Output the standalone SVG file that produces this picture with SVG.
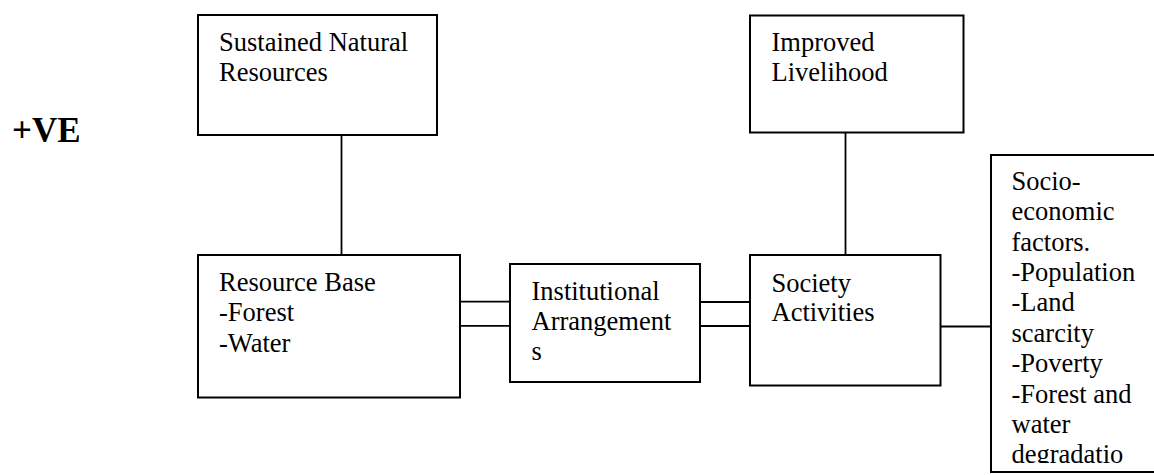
<svg xmlns="http://www.w3.org/2000/svg" width="1154" height="475" viewBox="0 0 1154 475">
<style>
.box{fill:#fff;stroke:#000;stroke-width:2}
.ln{stroke:#000;stroke-width:1.8;fill:none}
text{font-family:"Liberation Serif","Times New Roman",serif;font-size:26.5px;fill:#000}
.big{font-weight:bold;font-size:35px}
</style>
<defs>
<clipPath id="clipSocio"><rect x="991" y="155" width="170" height="308"/></clipPath>
</defs>
<g id="connectors">
<line class="ln" x1="341.5" y1="135" x2="341.5" y2="255"/>
<line class="ln" x1="845.5" y1="133" x2="845.5" y2="255"/>
<line class="ln" x1="460" y1="301.7" x2="510" y2="301.7"/>
<line class="ln" x1="460" y1="325.8" x2="510" y2="325.8"/>
<line class="ln" x1="700" y1="302" x2="750" y2="302"/>
<line class="ln" x1="700" y1="326" x2="750" y2="326"/>
<line class="ln" x1="940.5" y1="326.5" x2="991" y2="326.5"/>
</g>
<text class="big" x="12" y="142">+VE</text>
<g id="sustained">
<rect class="box" x="198" y="15" width="239" height="120"/>
<text x="219" y="51">Sustained Natural</text>
<text x="219" y="81">Resources</text>
</g>
<g id="improved">
<rect class="box" x="750" y="15.5" width="213.5" height="117"/>
<text x="771.5" y="51">Improved</text>
<text x="771.5" y="81">Livelihood</text>
</g>
<g id="resource">
<rect class="box" x="198" y="255" width="262" height="142.5"/>
<text x="219" y="291">Resource Base</text>
<text x="219" y="321">-Forest</text>
<text x="219" y="351.5">-Water</text>
</g>
<g id="institutional">
<rect class="box" x="510" y="264" width="190" height="118"/>
<text x="531.5" y="300">Institutional</text>
<text x="531.5" y="330">Arrangement</text>
<text x="531.5" y="360">s</text>
</g>
<g id="society">
<rect class="box" x="750" y="255" width="190.5" height="130.5"/>
<text x="771.5" y="291.5">Society</text>
<text x="771.5" y="321">Activities</text>
</g>
<g id="socio">
<rect class="box" x="991" y="155" width="175" height="317"/>
<g clip-path="url(#clipSocio)">
<text x="1011.5" y="190">Socio-</text>
<text x="1011.5" y="220.3">economic</text>
<text x="1011.5" y="250.6">factors.</text>
<text x="1011.5" y="281">-Population</text>
<text x="1011.5" y="311.4">-Land</text>
<text x="1011.5" y="341.8">scarcity</text>
<text x="1011.5" y="372.2">-Poverty</text>
<text x="1011.5" y="402.6">-Forest and</text>
<text x="1011.5" y="433">water</text>
<text x="1011.5" y="463.4">degradatio</text>
</g>
</g>
</svg>
